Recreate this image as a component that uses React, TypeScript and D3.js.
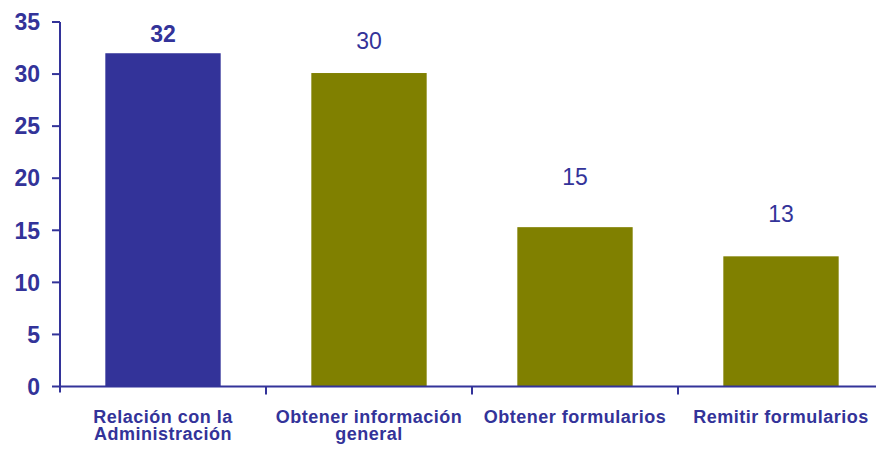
import React from "react";
import * as d3 from "d3";

const categories: string[][] = [
  ["Relación con la", "Administración"],
  ["Obtener información", "general"],
  ["Obtener formularios"],
  ["Remitir formularios"],
];
const values: number[] = [32, 30.1, 15.3, 12.5];
const valueLabels: string[] = ["32", "30", "15", "13"];
const highlighted: boolean[] = [true, false, false, false];
const yTicks: number[] = [0, 5, 10, 15, 20, 25, 30, 35];

// layout (px above bar top for each value label)
const labelGap: number[] = [11, 24, 42, 34];

const W = 876;
const H = 450;
const BLUE = "#333399";
const OLIVE = "#808000";
const FONT = "'Liberation Sans', Arial, sans-serif";

export default function App() {
  const x0 = 60;
  const y = d3.scaleLinear().domain([0, 35]).range([386.5, 22]);
  const x = d3
    .scaleBand<number>()
    .domain(values.map((_, i) => i))
    .range([x0, x0 + 206 * 4])
    .padding(0);
  const bw = x.bandwidth() * 0.56;

  return (
    <div style={{ position: "absolute", left: 0, top: 0 }}>
      <svg width={W} height={H} style={{ display: "block", background: "#fff" }}>
        {values.map((v, i) => {
          const cx = (x(i) as number) + x.bandwidth() / 2;
          return (
            <rect
              key={"b" + i}
              x={cx - bw / 2}
              y={y(v)}
              width={bw}
              height={y(0) - y(v)}
              fill={highlighted[i] ? BLUE : OLIVE}
            />
          );
        })}
        {values.map((v, i) => {
          const cx = (x(i) as number) + x.bandwidth() / 2;
          return (
            <text
              key={"l" + i}
              x={cx}
              y={y(v) - labelGap[i]}
              textAnchor="middle"
              fontFamily={FONT}
              fontSize={23}
              fontWeight={highlighted[i] ? "bold" : "normal"}
              fill={BLUE}
            >
              {valueLabels[i]}
            </text>
          );
        })}
        <line x1={x0} x2={x0} y1={y(35)} y2={y(0) + 6} stroke={BLUE} strokeWidth={2} />
        {yTicks.map((t) => (
          <g key={"t" + t}>
            <line x1={x0 - 8} x2={x0} y1={y(t)} y2={y(t)} stroke={BLUE} strokeWidth={2} />
            <text
              x={40}
              y={y(t)}
              dy="0.36em"
              textAnchor="end"
              fontFamily={FONT}
              fontSize={23}
              fontWeight="bold"
              fill={BLUE}
            >
              {t}
            </text>
          </g>
        ))}
        <line x1={x0} x2={W} y1={y(0)} y2={y(0)} stroke={BLUE} strokeWidth={2} />
        {values.map((_, i) =>
          i === 0 ? null : (
            <line
              key={"xt" + i}
              x1={x(i) as number}
              x2={x(i) as number}
              y1={y(0)}
              y2={y(0) + 8}
              stroke={BLUE}
              strokeWidth={2}
            />
          )
        )}
        {categories.map((lines, i) => {
          const cx = (x(i) as number) + x.bandwidth() / 2;
          return (
            <text
              key={"c" + i}
              textAnchor="middle"
              fontFamily={FONT}
              fontSize={18}
              fontWeight="bold"
              letterSpacing={0.5}
              fill={BLUE}
            >
              {lines.map((ln, j) => (
                <tspan key={j} x={cx} y={y(0) + 36 + j * 17.5}>
                  {ln}
                </tspan>
              ))}
            </text>
          );
        })}
      </svg>
    </div>
  );
}
